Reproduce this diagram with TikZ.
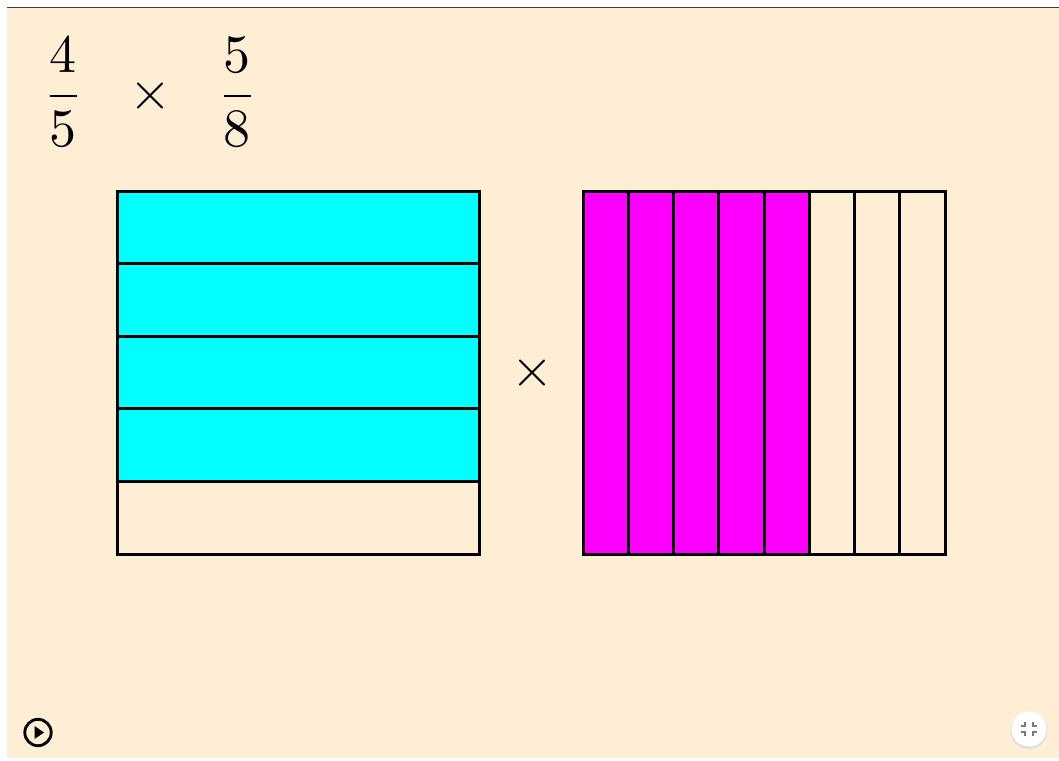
\documentclass[tikz,border=0pt]{standalone}
\definecolor{paper}{RGB}{255,238,214}
\definecolor{band}{RGB}{0,255,255}
\definecolor{strip}{RGB}{255,0,255}
\definecolor{rule}{RGB}{68,60,52}
\definecolor{icongray}{RGB}{120,120,120}
\tikzset{
  bigmath/.style={inner sep=0pt, anchor=base, scale=5.4},
  gridline/.style={line width=3pt, line join=miter, line cap=rect},
}
\begin{document}
\begin{tikzpicture}[x=1pt, y=-1pt]
  \useasboundingbox (0,0) rectangle (1059,760);
  % page and top rule
  \fill[white] (0,0) rectangle (1059,760);
  \fill[paper] (7,8) rectangle (1059,758);
  \draw[rule, line width=1.5pt] (7,7.5) -- (1059,7.5);

  % expression
  \node[bigmath] (fracA) at (63,109.5) {$\displaystyle\frac{4}{5}$};
  \node[bigmath] (timesA) at (150,109.5) {$\times$};
  \node[bigmath] (fracB) at (237,109.5) {$\displaystyle\frac{5}{8}$};
  \node[bigmath] (timesB) at (532,386.5) {$\times$};

  % left square: five horizontal bands, four shaded
  \fill[band] (117,191) rectangle (479,482.2);
  \foreach \k in {1,...,4}
    \draw[gridline] (117,{191+\k*72.6}) -- (479,{191+\k*72.6});
  \draw[gridline] (117,191) rectangle (479,554);

  % right square: eight vertical strips, five shaded
  \fill[strip] (583,191) rectangle (809.25,554);
  \foreach \k in {1,...,7}
    \draw[gridline] ({583+\k*45.25},191) -- ({583+\k*45.25},554);
  \draw[gridline] (583,191) rectangle (945,554);

  % play button
  \draw[black, line width=2.8pt] (38,732.5) circle (13.2);
  \fill[black] (34.5,726) -- (34.5,739) -- (44,732.5) -- cycle;

  % exit-fullscreen button
  \fill[black!12] (1029,730.5) circle (18.5);
  \fill[white] (1029,729) circle (17.5);
  \begin{scope}[icongray, line width=1.8pt]
    \draw (1021,726) -- (1025,726) -- (1025,722);
    \draw (1037,726) -- (1033,726) -- (1033,722);
    \draw (1021,732) -- (1025,732) -- (1025,736);
    \draw (1037,732) -- (1033,732) -- (1033,736);
  \end{scope}
\end{tikzpicture}
\end{document}
